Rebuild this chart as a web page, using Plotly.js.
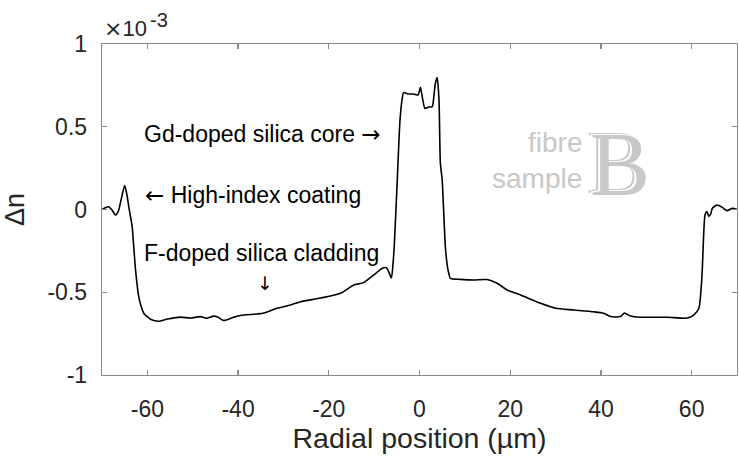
<!DOCTYPE html>
<html>
<head>
<meta charset="utf-8">
<script src="https://cdn.plot.ly/plotly-3.0.1.min.js"></script>
<style>
  html, body { margin: 0; padding: 0; background: #ffffff; }
  #chart { width: 739px; height: 459px; }
</style>
</head>
<body>
<div id="chart"></div>
<script>
// Refractive-index profile across the fibre diameter (Δn in units of 1e-3)
const radialPosition = [
  -69.9, -69.3, -68.5, -67.8, -67.0, -66.4, -65.7, -65.0, -64.5, -64.1,
  -63.35, -62.95, -62.6, -61.9, -61.4, -60.8, -59.3, -57.5, -55.6, -52.7,
  -50.5, -48.3, -46.8, -45.4, -44.5, -43.15, -40.95, -39.5, -35.8, -34.3,
  -31.4, -28.45, -26.2, -21.8, -17.4, -14.5, -12.3, -10.1, -8.2, -7.3,
  -6.8, -6.2, -5.8, -5.5, -4.9, -4.3, -3.8, -3.5, -2.4, -1.3,
  -0.3, 0.2, 0.6, 1.2, 2.05, 2.8, 3.2, 3.5, 3.9, 4.3,
  4.6, 5.0, 5.7, 6.2, 6.5, 6.8, 9.0, 12.0, 14.9, 17.1,
  19.3, 22.3, 26.7, 30.0, 34.0, 38.4, 40.6, 42.1, 44.3, 45.2,
  46.5, 48.7, 54.6, 59.0, 60.5, 61.6, 62.07, 62.34, 62.6, 62.95,
  63.35, 63.8, 64.2, 64.6, 65.65, 66.75, 67.8, 68.95, 70.0
];
const deltaN = [
  0.000, 0.010, 0.017, -0.003, -0.033, -0.010, 0.070, 0.144, 0.088, 0.017,
  -0.104, -0.245, -0.366, -0.527, -0.583, -0.627, -0.663, -0.675, -0.662, -0.650,
  -0.656, -0.647, -0.657, -0.644, -0.650, -0.671, -0.651, -0.640, -0.631, -0.625,
  -0.597, -0.577, -0.557, -0.535, -0.506, -0.456, -0.442, -0.396, -0.355, -0.352,
  -0.376, -0.414, -0.317, -0.184, 0.178, 0.541, 0.672, 0.706, 0.698, 0.698,
  0.692, 0.738, 0.682, 0.611, 0.619, 0.621, 0.692, 0.763, 0.798, 0.662,
  0.281, 0.178, -0.225, -0.353, -0.390, -0.416, -0.422, -0.426, -0.423, -0.446,
  -0.486, -0.517, -0.567, -0.597, -0.607, -0.618, -0.627, -0.647, -0.647, -0.625,
  -0.644, -0.651, -0.651, -0.656, -0.637, -0.597, -0.486, -0.366, -0.184, -0.033,
  -0.013, -0.042, -0.027, 0.009, 0.027, 0.013, -0.007, 0.007, 0.001
];

const xTicks = [-60, -40, -20, 0, 20, 40, 60];
const xTickLabels = ['-60', '-40', '-20', '0', '20', '40', '60'];
const yTicks = [-1, -0.5, 0, 0.5, 1];
const yTickLabels = ['-1', '-0.5', '0', '0.5', '1'];

const FONT = 'Liberation Sans, Arial, Helvetica, sans-serif';
const SERIF = 'Liberation Serif, DejaVu Serif, serif';
const AXIS_GREY = '#8a8a8a';
const TEXT_DARK = '#262626';
const WATERMARK = '#c8c8c8';

// arrow / times glyphs taken from DejaVu Sans, which draws them full-width
const sym = (c) => '<span style="font-family:\'DejaVu Sans\'">' + c + '</span>';

const trace = {
  x: radialPosition,
  y: deltaN,
  type: 'scatter',
  mode: 'lines',
  line: { color: '#000000', width: 1.6, shape: 'spline', smoothing: 0.6 },
  hoverinfo: 'skip'
};

const noteFont = { family: FONT, size: 23, color: '#000000' };

const layout = {
  width: 739,
  height: 459,
  margin: { l: 102, r: 2, t: 44, b: 84 },
  paper_bgcolor: '#ffffff',
  plot_bgcolor: '#ffffff',
  showlegend: false,
  font: { family: FONT, color: TEXT_DARK, size: 23 },
  xaxis: {
    range: [-70, 70],
    tickvals: xTicks,
    ticktext: xTickLabels,
    ticks: 'inside',
    ticklen: 5,
    tickwidth: 1.2,
    tickcolor: AXIS_GREY,
    showline: true,
    linecolor: AXIS_GREY,
    linewidth: 1.3,
    mirror: 'ticks',
    showgrid: false,
    zeroline: false,
    tickfont: { family: FONT, size: 23, color: TEXT_DARK },
    ticklabelstandoff: 13,
    title: { text: 'Radial position (µm)', font: { family: FONT, size: 28.5, color: TEXT_DARK }, standoff: 3 }
  },
  yaxis: {
    range: [-1, 1],
    tickvals: yTicks,
    ticktext: yTickLabels,
    ticks: 'inside',
    ticklen: 5,
    tickwidth: 1.2,
    tickcolor: AXIS_GREY,
    showline: true,
    linecolor: AXIS_GREY,
    linewidth: 1.3,
    mirror: 'ticks',
    showgrid: false,
    zeroline: false,
    tickfont: { family: FONT, size: 23, color: TEXT_DARK },
    ticklabelstandoff: 9,
    title: { text: 'Δn', font: { family: FONT, size: 27, color: TEXT_DARK }, standoff: 27 }
  },
  annotations: [
    { xref: 'paper', yref: 'paper', x: 0.0, y: 1.0, xanchor: 'left', yanchor: 'bottom', yshift: 1,
      text: sym('×') + '10', showarrow: false, font: { family: FONT, size: 22, color: TEXT_DARK } },
    { xref: 'paper', yref: 'paper', x: 0.0, y: 1.0, xanchor: 'left', yanchor: 'bottom', xshift: 46, yshift: 11,
      text: '-3', showarrow: false, font: { family: FONT, size: 20, color: TEXT_DARK } },
    { xref: 'x', yref: 'y', x: -61.2, y: 0.455, xanchor: 'left', yanchor: 'middle',
      text: 'Gd-doped silica core ' + sym('→'), showarrow: false, font: noteFont },
    { xref: 'x', yref: 'y', x: -61.0, y: 0.09, xanchor: 'left', yanchor: 'middle',
      text: sym('←') + ' High-index coating', showarrow: false, font: noteFont },
    { xref: 'x', yref: 'y', x: -61.2, y: -0.26, xanchor: 'left', yanchor: 'middle',
      text: 'F-doped silica cladding', showarrow: false, font: noteFont },
    { xref: 'x', yref: 'y', x: -34.0, y: -0.445, xanchor: 'center', yanchor: 'middle',
      text: sym('↓'), showarrow: false, font: { family: FONT, size: 19, color: '#000000' } },
    { xref: 'x', yref: 'y', x: 36.2, y: 0.405, xanchor: 'right', yanchor: 'middle',
      text: 'fibre', showarrow: false, font: { family: FONT, size: 28, color: WATERMARK } },
    { xref: 'x', yref: 'y', x: 36.2, y: 0.19, xanchor: 'right', yanchor: 'middle',
      text: 'sample', showarrow: false, font: { family: FONT, size: 28, color: WATERMARK } },
    // large serif letter with an inline (white gap + thin grey) shadow
    { xref: 'x', yref: 'y', x: 37.2, y: 0.27, xanchor: 'left', yanchor: 'middle',
      text: 'B', showarrow: false,
      font: { family: SERIF, size: 90, color: WATERMARK,
              shadow: '-2px -1px 0 #ffffff, -4px -2px 0 ' + WATERMARK } }
  ]
};

Plotly.newPlot('chart', [trace], layout, { staticPlot: true, displayModeBar: false });
</script>
</body>
</html>
